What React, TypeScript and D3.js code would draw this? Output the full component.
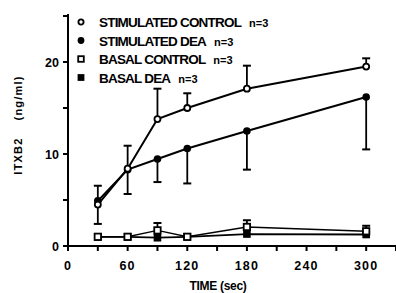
import React from 'react';
import * as d3 from 'd3';

// time points (sec)
const times = [30, 60, 90, 120, 180, 300];

// ITXB2 (ng/ml) means and error-bar ends
const stimControl = [4.5, 8.4, 13.8, 15.0, 17.1, 19.5];
const stimControlErr = [6.55, 10.9, 17.1, 16.6, 19.6, 20.4];
const stimDea = [4.9, 8.3, 9.45, 10.6, 12.5, 16.2];
const stimDeaErr = [2.4, 5.65, 6.95, 6.8, 8.3, 10.5];
const basalControl = [1.0, 1.0, 1.7, 1.0, 2.07, 1.6];
const basalControlErr = [1.0, 1.0, 2.5, 1.0, 2.8, 2.2];
const basalDea = [1.0, 1.0, 0.9, 1.0, 1.3, 1.25];

const xTicks = [0, 30, 60, 90, 120, 150, 180, 210, 240, 270, 300, 330];
const xLabels = [0, 60, 120, 180, 240, 300];
const yTicks = [0, 5, 10, 15, 20, 25];
const yLabels = [0, 10, 20];

const legendItems = [
  { label: 'STIMULATED CONTROL', shape: 'circle', filled: false },
  { label: 'STIMULATED DEA', shape: 'circle', filled: true },
  { label: 'BASAL CONTROL', shape: 'square', filled: false },
  { label: 'BASAL DEA', shape: 'square', filled: true },
];

const font = '"Liberation Sans", Arial, sans-serif';

const App = () => {
  const width = 396;
  const height = 293;
  const x = d3.scaleLinear().domain([0, 330]).range([68, 396]);
  const y = d3.scaleLinear().domain([0, 25]).range([246, 16]);

  const line = d3.line<number>()
    .x((_, i) => x(times[i]))
    .y(d => y(d));

  const marker = (shape: string, filled: boolean, cx: number, cy: number, key: string, size = 3.8) => {
    if (shape === 'circle') {
      return (
        <circle key={key} cx={cx} cy={cy} r={filled ? size : size - 0.8}
          fill={filled ? '#000' : '#fff'} stroke="#000" strokeWidth={filled ? 0 : 1.8} />
      );
    }
    const s = filled ? size : size - 0.6;
    return (
      <rect key={key} x={cx - s} y={cy - s} width={2 * s} height={2 * s}
        fill={filled ? '#000' : '#fff'} stroke="#000" strokeWidth={filled ? 0 : 1.8} />
    );
  };

  const errBars = (means: number[], ends: number[], prefix: string) =>
    means.map((m, i) => {
      if (Math.abs(ends[i] - m) < 0.05) return null;
      const cx = x(times[i]);
      return (
        <g key={prefix + i}>
          <line x1={cx} x2={cx} y1={y(m)} y2={y(ends[i])} stroke="#000" strokeWidth={1.8} />
          <line x1={cx - 4} x2={cx + 4} y1={y(ends[i])} y2={y(ends[i])} stroke="#000" strokeWidth={2} />
        </g>
      );
    });

  return (
    <div style={{ position: 'absolute', left: 0, top: 0 }}>
      <svg width={width} height={height} style={{ display: 'block', background: '#fff' }}>
        {/* axes */}
        <line x1={x(0)} x2={x(0)} y1={y(25) - 2} y2={y(0)} stroke="#000" strokeWidth={2} />
        <line x1={x(0)} x2={x(330)} y1={y(0)} y2={y(0)} stroke="#000" strokeWidth={2} />
        {yTicks.map(t => (
          <line key={'yt' + t} x1={x(0) - 5} x2={x(0)} y1={y(t)} y2={y(t)} stroke="#000" strokeWidth={2} />
        ))}
        {xTicks.map(t => (
          <line key={'xt' + t} x1={x(t)} x2={x(t)} y1={y(0)} y2={y(0) + 5} stroke="#000" strokeWidth={2} />
        ))}
        {yLabels.map(t => (
          <text key={'yl' + t} x={x(0) - 9} y={y(t) + 4.5} textAnchor="end"
            fontFamily={font} fontWeight="bold" fontSize={12.5}>{t}</text>
        ))}
        {xLabels.map(t => (
          <text key={'xl' + t} x={x(t)} y={270} textAnchor="middle"
            fontFamily={font} fontWeight="bold" fontSize={12.5} letterSpacing={1.2}>{t}</text>
        ))}
        <text x={218} y={290} textAnchor="middle" fontFamily={font} fontWeight="bold" fontSize={12}
          letterSpacing={-0.3}>TIME (sec)</text>
        <text transform="translate(22,125) rotate(-90)" textAnchor="middle" fontFamily={font}
          fontWeight="bold" fontSize={11} letterSpacing={1.2} xmlSpace="preserve">{'ITXB2    (ng/ml)'}</text>

        {/* error bars */}
        {errBars(stimControl, stimControlErr, 'sc')}
        {errBars(stimDea, stimDeaErr, 'sd')}
        {errBars(basalControl, basalControlErr, 'bc')}

        {/* lines */}
        <path d={line(basalControl) || ''} fill="none" stroke="#000" strokeWidth={1.4} />
        <path d={line(basalDea) || ''} fill="none" stroke="#000" strokeWidth={1.8} />
        <path d={line(stimDea) || ''} fill="none" stroke="#000" strokeWidth={2} />
        <path d={line(stimControl) || ''} fill="none" stroke="#000" strokeWidth={2} />

        {/* markers */}
        {basalDea.map((v, i) => marker('square', true, x(times[i]), y(v), 'bd' + i))}
        {basalControl.map((v, i) => marker('square', false, x(times[i]), y(v), 'bcm' + i))}
        {stimDea.map((v, i) => marker('circle', true, x(times[i]), y(v), 'sdm' + i))}
        {stimControl.map((v, i) => marker('circle', false, x(times[i]), y(v), 'scm' + i))}

        {/* legend */}
        {legendItems.map((it, i) => {
          const ly = 22 + i * 18.5;
          return (
            <g key={'lg' + i}>
              {marker(it.shape, it.filled, 81, ly, 'lm' + i, 3.4)}
              <text x={99} y={ly + 5} fontFamily={font} fontWeight="bold" fontSize={13.5}
                letterSpacing={-0.8} xmlSpace="preserve">
                {it.label}
                <tspan fontSize={11} letterSpacing={0} dx={8}>n=3</tspan>
              </text>
            </g>
          );
        })}
      </svg>
    </div>
  );
};

export default App;
